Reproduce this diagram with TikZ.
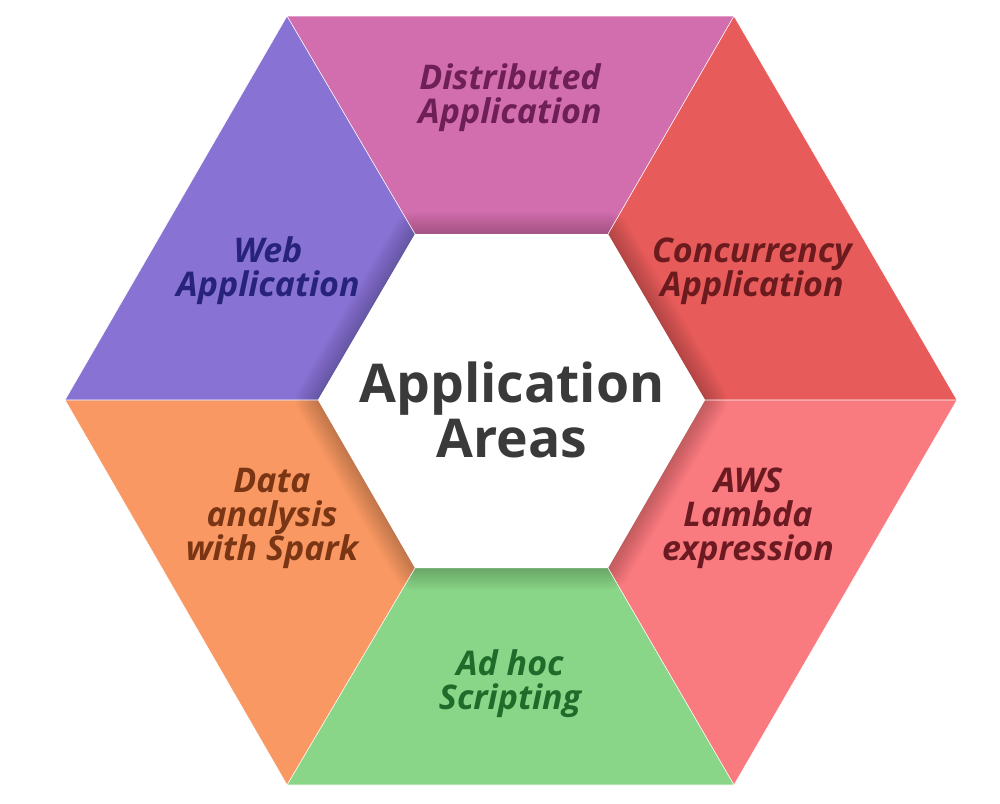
\documentclass[tikz,border=0pt]{standalone}
\usepackage{fontspec}
\setmainfont{Open Sans}
\usetikzlibrary{calc}
\definecolor{cpurple}{HTML}{8872D4}
\definecolor{cpink}{HTML}{D36EAE}
\definecolor{cred}{HTML}{E75B5A}
\definecolor{csalmon}{HTML}{F97A7F}
\definecolor{cgreen}{HTML}{8AD688}
\definecolor{corange}{HTML}{F99862}
\definecolor{tpurple}{HTML}{28237A}
\definecolor{tpink}{HTML}{6E1F55}
\definecolor{tred}{HTML}{6B1A1E}
\definecolor{tsalmon}{HTML}{6B1A22}
\definecolor{tgreen}{HTML}{1F6B2A}
\definecolor{torange}{HTML}{7A3514}
\definecolor{tcenter}{HTML}{3A3A3A}
\tikzset{
  seg/.style={draw=white, line width=0.6pt},
  lab/.style={align=center, font=\fontsize{34}{34}\selectfont\bfseries\itshape, inner sep=0pt},
  centerlab/.style={align=center, font=\fontsize{53.5}{55}\selectfont\bfseries, text=tcenter, inner sep=0pt}
}
\begin{document}
\begin{tikzpicture}[x=1pt,y=-1pt]
\useasboundingbox (0,0) rectangle (1000,803);
% outer vertices
\coordinate (OTL) at (287,16);
\coordinate (OTR) at (734,16);
\coordinate (OR) at (957,400);
\coordinate (OBR) at (734,785);
\coordinate (OBL) at (287,785);
\coordinate (OL) at (65,400);
% inner vertices
\coordinate (ITL) at (415,234);
\coordinate (ITR) at (608,234);
\coordinate (IR) at (705,400);
\coordinate (IBR) at (608,568);
\coordinate (IBL) at (415,568);
\coordinate (IL) at (318,400);
% segments
\fill[cpink] (OTL) -- (OTR) -- (ITR) -- (ITL) -- cycle;
\fill[cred] (OTR) -- (OR) -- (IR) -- (ITR) -- cycle;
\fill[csalmon] (OR) -- (OBR) -- (IBR) -- (IR) -- cycle;
\fill[cgreen] (OBR) -- (OBL) -- (IBL) -- (IBR) -- cycle;
\fill[corange] (OBL) -- (OL) -- (IL) -- (IBL) -- cycle;
\fill[cpurple] (OL) -- (OTL) -- (ITL) -- (IL) -- cycle;
% inner shadow
\begin{scope}
\clip (OTL) -- (OTR) -- (OR) -- (OBR) -- (OBL) -- (OL) -- cycle;
\foreach \w in {44,40,36,32,28,24,20,16,12,8,4}{
  \draw[black, opacity=0.018, line width=\w pt, line join=round]
    (ITL) -- (ITR) -- (IR) -- (IBR) -- (IBL) -- (IL) -- cycle;
}
\end{scope}
% separators
\draw[seg] (OTL) -- (ITL) (OTR) -- (ITR) (OR) -- (IR) (OBR) -- (IBR) (OBL) -- (IBL) (OL) -- (IL);
\draw[seg] (OTL) -- (OTR) -- (OR) -- (OBR) -- (OBL) -- (OL) -- cycle;
% center
\fill[white] (ITL) -- (ITR) -- (IR) -- (IBR) -- (IBL) -- (IL) -- cycle;
% labels
\node[lab, text=tpink] (dist) at (510,98) {Distributed\\Application};
\node[lab, text=tred] (conc) at (752,271) {Concurrency\\Application};
\node[lab, text=tsalmon] (aws) at (748,518) {AWS\\Lambda\\expression};
\node[lab, text=tgreen] (adhoc) at (510,684) {Ad hoc\\Scripting};
\node[lab, text=torange] (data) at (272,518) {Data\\analysis\\with Spark};
\node[lab, text=tpurple] (web) at (268,271) {Web\\Application};
\node[centerlab] (center) at (512,410) {Application\\Areas};
\end{tikzpicture}
\end{document}
